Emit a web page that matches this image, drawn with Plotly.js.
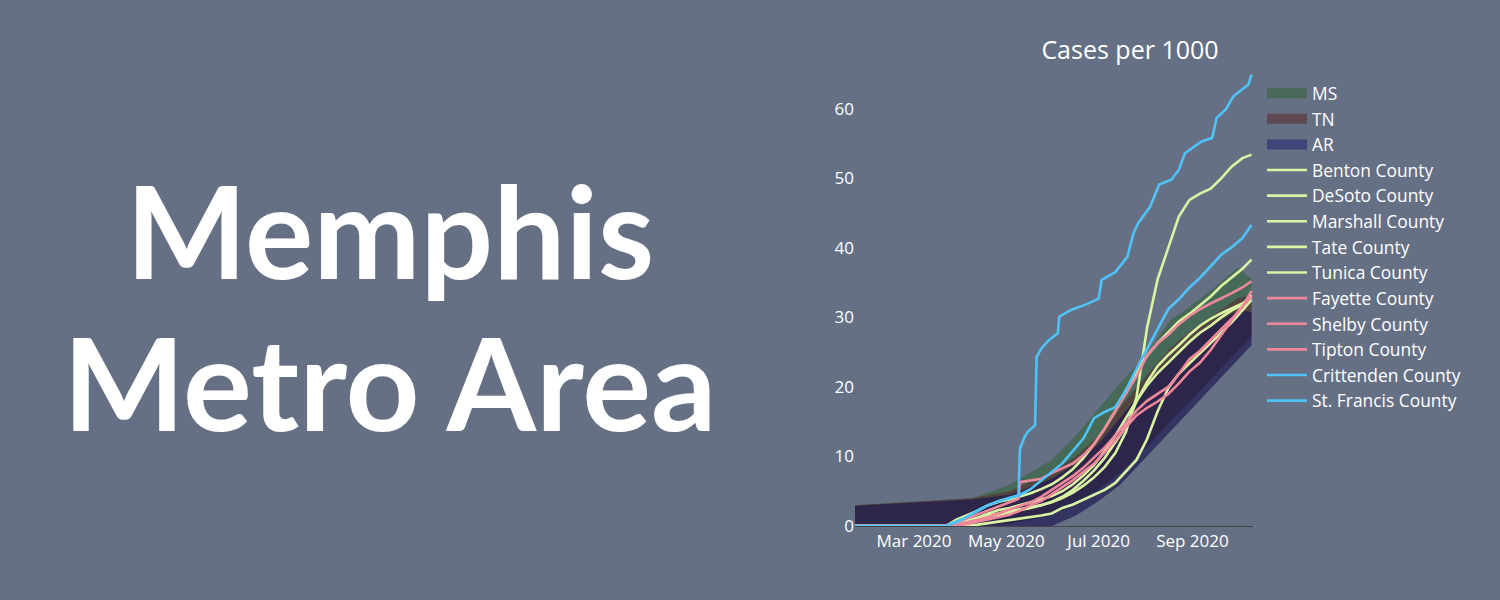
<!DOCTYPE html>
<html>
<head>
<meta charset="utf-8">
<script src="https://cdn.plot.ly/plotly-3.0.1.min.js"></script>
<style>
  html, body { margin: 0; padding: 0; background: #657085; }
  #chart { width: 1500px; height: 600px; }
</style>
</head>
<body>
<div id="chart"></div>
<script>
// ---------- data (cases per 1000) ----------
const stateNames = ['MS', 'TN', 'AR'];
const stateDates = ['2020-01-22','2020-04-08','2020-05-03','2020-05-31','2020-06-16','2020-07-01','2020-07-15','2020-08-01','2020-08-17','2020-09-01','2020-09-15','2020-10-01','2020-10-10'];
const msUpper = [3.0,4.0,5.9,9.5,13.0,16.8,20.5,24.5,29.5,31.8,34.2,37.2,35.5];
const msLower = [0,0,0.3,1.5,3.3,5.3,7.6,11.2,15.0,18.3,21.5,25.2,27.3];
const tnUpper = [3.0,4.0,5.0,7.8,10.0,13.0,17.0,21.5,25.5,28.3,30.3,32.8,33.2];
const tnLower = [0,0,0.3,1.5,3.3,5.3,7.6,11.2,15.0,18.3,21.5,25.2,27.3];
const arUpper = [2.9,3.8,4.5,6.8,9.0,11.8,15.5,20.0,24.0,27.0,29.0,31.0,30.8];
const arLower = [0,0,0,0,1.5,3.6,5.9,9.8,13.5,17.0,20.2,23.9,26.0];

const weekDates = ['2020-01-22','2020-03-15','2020-03-22','2020-03-29','2020-04-05','2020-04-12','2020-04-19','2020-04-26','2020-05-03','2020-05-10','2020-05-17','2020-05-24','2020-05-31','2020-06-07','2020-06-14','2020-06-21','2020-06-28','2020-07-05','2020-07-12','2020-07-19','2020-07-26','2020-08-02','2020-08-09','2020-08-16','2020-08-23','2020-08-30','2020-09-06','2020-09-13','2020-09-20','2020-09-27','2020-10-04','2020-10-10'];

const benton   = [0,0,0,0,0.1,0.2,0.4,0.6,0.8,1.0,1.2,1.5,1.8,2.6,3.1,3.8,4.4,5.2,6.2,7.8,9.5,12.5,16.5,19.8,21.9,23.4,24.8,26.3,27.8,29.3,31.0,32.5];
const desoto   = [0,0,0,0.9,1.5,2.2,3.0,3.5,3.8,4.2,4.7,5.3,6.0,7.0,8.2,9.8,11.8,14.0,16.5,19.5,22.0,24.5,26.3,27.9,29.4,30.5,31.8,33.0,34.5,35.8,37.0,38.3];
const marshall = [0,0,0,0.3,0.7,1.2,1.8,2.3,2.6,3.0,3.3,3.8,4.3,5.0,6.0,7.3,8.8,10.8,13.0,15.5,18.0,20.2,22.0,23.5,25.0,26.5,27.8,28.8,30.0,31.0,31.8,33.2];
const tate     = [0,0,0,0.2,0.5,0.9,1.3,1.6,1.9,2.2,2.6,3.0,3.5,4.2,5.2,6.5,8.0,9.8,12.0,14.3,17.9,20.7,23.0,24.6,26.0,27.5,28.8,29.8,30.6,31.3,32.0,32.8];
const tunica   = [0,0,0,0.3,0.8,1.2,1.5,1.8,2.0,2.3,2.6,3.0,3.4,4.0,4.8,5.8,7.0,8.5,10.5,13.5,18.5,28.5,35.5,40.0,44.5,46.9,47.8,48.5,50.0,51.7,52.9,53.4];
const fayette  = [0,0,0,0,0.3,0.6,0.9,1.2,1.6,2.2,3.0,3.6,4.6,5.6,6.6,7.8,9.0,10.6,12.3,14.2,15.9,17.0,17.9,19.0,20.5,22.2,23.5,25.3,27.5,29.6,31.6,33.0];
const tipton   = [0,0,0,0.2,0.5,0.9,1.3,1.8,2.3,2.8,3.4,4.2,5.2,6.2,7.2,8.4,9.8,11.3,13.0,14.8,16.6,18.0,19.0,20.0,21.9,24.0,25.2,26.8,28.3,29.8,31.5,33.8];
const crittenden = [0,0,0,0.5,1.3,2.2,3.0,3.6,4.0,4.5,5.3,6.5,7.8,9.0,10.8,12.6,15.5,16.4,17.1,19.5,22.6,25.5,28.5,31.2,32.6,34.3,35.7,37.3,39.0,40.1,41.4,43.3];

const shelbyDates = ['2020-01-22','2020-03-15','2020-03-22','2020-03-29','2020-04-05','2020-04-12','2020-04-19','2020-04-26','2020-05-03','2020-05-09','2020-05-10','2020-05-17','2020-05-24','2020-05-31','2020-06-07','2020-06-14','2020-06-21','2020-06-28','2020-07-05','2020-07-12','2020-07-19','2020-07-26','2020-08-02','2020-08-09','2020-08-16','2020-08-23','2020-08-30','2020-09-06','2020-09-13','2020-09-20','2020-09-27','2020-10-04','2020-10-10'];
const shelby = [0,0,0.1,0.5,1.1,1.7,2.3,2.9,3.5,3.9,6.3,6.5,6.8,7.6,8.3,9.0,10.2,11.8,14.0,16.5,18.8,21.5,24.5,26.3,27.5,29.0,30.2,31.2,32.0,32.7,33.5,34.3,35.2];

const stFrancisDates = ['2020-01-22','2020-03-22','2020-04-05','2020-04-14','2020-04-25','2020-05-09','2020-05-10','2020-05-13','2020-05-15','2020-05-20','2020-05-21','2020-05-24','2020-05-29','2020-06-04','2020-06-05','2020-06-13','2020-06-22','2020-07-01','2020-07-03','2020-07-12','2020-07-20','2020-07-24','2020-07-27','2020-08-04','2020-08-10','2020-08-18','2020-08-23','2020-08-27','2020-09-07','2020-09-14','2020-09-17','2020-09-23','2020-09-28','2020-10-02','2020-10-08','2020-10-10'];
const stFrancis = [0,0,1.3,2.5,3.5,4.4,11.1,12.8,13.5,14.5,24.3,25.5,26.7,27.7,30.1,31.1,31.8,32.7,35.4,36.5,38.7,42.1,43.5,45.9,49.1,49.8,51.2,53.6,55.3,55.8,58.7,59.9,61.8,62.5,63.5,64.9];

const countyNames = ['Benton County','DeSoto County','Marshall County','Tate County','Tunica County','Fayette County','Shelby County','Tipton County','Crittenden County','St. Francis County'];

// ---------- styling ----------
const BG = '#657085';
const GREEN_LINE = '#d9f5a3';
const PINK_LINE = '#f0889c';
const BLUE_LINE = '#4fc3f7';
const FILLS = ['rgba(52,100,59,0.6)', 'rgba(90,45,49,0.6)', 'rgba(30,22,80,0.68)'];
const SWATCHES = ['#496958', '#5e4852', '#3e4578'];
const LW = 2.6;

function legendKey(i) {
  // legend entry only (no data points): a wide swatch for the state band
  return { type: 'scatter', mode: 'lines', name: stateNames[i], x: [null], y: [null],
           line: { width: 13, color: SWATCHES[i] }, hoverinfo: 'skip' };
}
function band(i, upper, lower) {
  return {
    type: 'scatter', mode: 'lines', name: stateNames[i], showlegend: false,
    x: stateDates.concat(stateDates.slice().reverse()),
    y: upper.concat(lower.slice().reverse()),
    fill: 'toself', fillcolor: FILLS[i],
    line: { width: 0, color: FILLS[i] },
    hoverinfo: 'skip'
  };
}
function county(name, x, y, color) {
  return { type: 'scatter', mode: 'lines', name: name, x: x, y: y,
           line: { color: color, width: LW } };
}

const traces = [
  legendKey(0), legendKey(1), legendKey(2),
  band(0, msUpper, msLower),
  band(1, tnUpper, tnLower),
  band(2, arUpper, arLower),
  county(countyNames[0], weekDates, benton, GREEN_LINE),
  county(countyNames[1], weekDates, desoto, GREEN_LINE),
  county(countyNames[2], weekDates, marshall, GREEN_LINE),
  county(countyNames[3], weekDates, tate, GREEN_LINE),
  county(countyNames[4], weekDates, tunica, GREEN_LINE),
  county(countyNames[5], weekDates, fayette, PINK_LINE),
  county(countyNames[6], shelbyDates, shelby, PINK_LINE),
  county(countyNames[7], weekDates, tipton, PINK_LINE),
  county(countyNames[8], weekDates, crittenden, BLUE_LINE),
  county(countyNames[9], stFrancisDates, stFrancis, BLUE_LINE)
];

const L = 855, R = 1253;
function px(x) { return (x - L) / (R - L); }

const layout = {
  width: 1500, height: 600,
  paper_bgcolor: BG, plot_bgcolor: BG,
  margin: { l: L, r: 1500 - R, t: 74, b: 74, pad: 0 },
  font: { family: '"Open Sans", sans-serif', color: '#ffffff', size: 17 },
  title: { text: 'Cases per 1000', font: { size: 25, color: '#ffffff' },
           x: 1130 / 1500, xref: 'container', xanchor: 'center',
           y: 1 - 50 / 600, yref: 'container', yanchor: 'middle' },
  showlegend: true,
  legend: { x: px(1262), xanchor: 'left', y: 0.997, yanchor: 'top',
            font: { size: 17.4, color: '#ffffff' }, bgcolor: 'rgba(0,0,0,0)',
            itemwidth: 40, tracegroupgap: 0 },
  xaxis: { type: 'date', range: ['2020-01-22', '2020-10-11'],
           dtick: 'M2', tick0: '2020-01-01', tickformat: '%b %Y',
           showgrid: false, zeroline: false, showline: true,
           linecolor: '#444444', linewidth: 1, ticks: '',
           tickfont: { size: 17, color: '#ffffff' } },
  yaxis: { range: [0, 65], dtick: 10, showgrid: false, zeroline: false,
           showline: false, ticks: '',
           tickfont: { size: 17, color: '#ffffff' } },
  annotations: [
    { text: 'Memphis', xref: 'paper', yref: 'paper', x: px(390), y: (526 - 229) / 452,
      xanchor: 'center', yanchor: 'middle', showarrow: false,
      font: { family: 'Lato, sans-serif', size: 128, color: '#ffffff', weight: 700 } },
    { text: 'Metro Area', xref: 'paper', yref: 'paper', x: px(390), y: (526 - 381) / 452,
      xanchor: 'center', yanchor: 'middle', showarrow: false,
      font: { family: 'Lato, sans-serif', size: 129, color: '#ffffff', weight: 700 } }
  ]
};

Plotly.newPlot('chart', traces, layout, { displayModeBar: false, staticPlot: true });
</script>
</body>
</html>
